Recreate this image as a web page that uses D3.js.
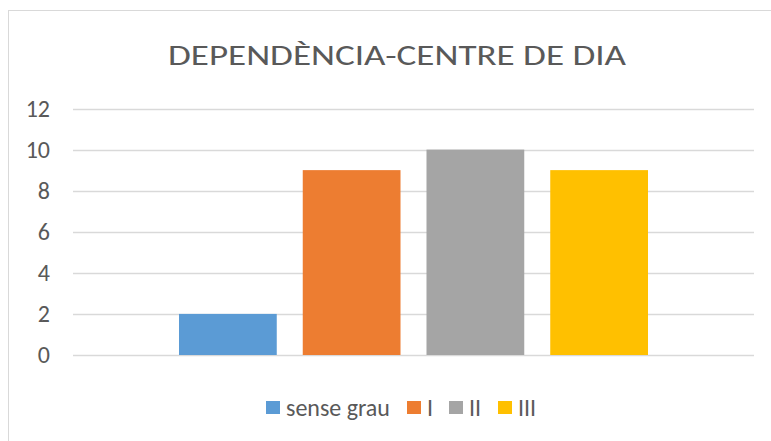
<!DOCTYPE html>
<html lang="ca">
<head>
    <meta charset="UTF-8">
    <title>Dependència - Centre de dia</title>
    <script src="https://d3js.org/d3.v7.min.js"></script>
    <style>
        body { margin: 0; background: #fff; }
        svg { display: block; font-family: Carlito, Calibri, "Open Sans", sans-serif; }
    </style>
</head>
<body>
    <svg width="771" height="441"></svg>
    <script>
        const series = ["sense grau", "I", "II", "III"];
        const values = [2, 9, 10, 9];
        const colors = ["#5B9BD5", "#ED7D31", "#A5A5A5", "#FFC000"];
        const yTicks = [0, 2, 4, 6, 8, 10, 12];
        const title = "DEPENDÈNCIA-CENTRE DE DIA";

        const svg = d3.select("svg");
        const textColor = "#595959";

        // chart frame
        svg.append("rect")
            .attr("x", 8.5).attr("y", 10.5)
            .attr("width", 780).attr("height", 440)
            .attr("fill", "none")
            .attr("stroke", "#D9D9D9");

        const plotLeft = 73, plotRight = 754, plotTop = 108.5, plotBottom = 355;

        const y = d3.scaleLinear().domain([0, 12]).range([plotBottom, plotTop]);

        const x0 = d3.scaleBand().domain(["cat"]).range([plotLeft, plotRight]).paddingOuter(0.226);
        const x1 = d3.scaleBand().domain(series).range([0, x0.bandwidth()]).paddingInner(0.21);

        // gridlines
        svg.append("g")
            .selectAll("line")
            .data(yTicks)
            .join("line")
            .attr("x1", plotLeft).attr("x2", plotRight)
            .attr("y1", d => Math.round(y(d)) + 0.5)
            .attr("y2", d => Math.round(y(d)) + 0.5)
            .attr("stroke", "#D9D9D9")
            .attr("stroke-width", 1.3);

        // y labels
        svg.append("g")
            .selectAll("text")
            .data(yTicks)
            .join("text")
            .attr("x", 50)
            .attr("y", d => y(d))
            .attr("dy", "0.34em")
            .attr("text-anchor", "end")
            .attr("fill", textColor)
            .attr("font-size", 24)
            .text(d => d);

        // bars
        svg.append("g")
            .selectAll("rect")
            .data(series)
            .join("rect")
            .attr("x", d => x0("cat") + x1(d))
            .attr("width", x1.bandwidth())
            .attr("y", (d, i) => y(values[i]))
            .attr("height", (d, i) => y(0) - y(values[i]))
            .attr("fill", (d, i) => colors[i]);

        // title
        svg.append("text")
            .attr("x", 397)
            .attr("y", 64.5)
            .attr("text-anchor", "middle")
            .attr("fill", textColor)
            .attr("font-size", 29.5)
            .attr("textLength", 458)
            .attr("lengthAdjust", "spacingAndGlyphs")
            .text(title);

        // legend
        const legendX = [266, 407, 449, 498];
        const lg = svg.append("g")
            .selectAll("g")
            .data(series)
            .join("g")
            .attr("transform", (d, i) => `translate(${legendX[i]},401)`);
        lg.append("rect")
            .attr("width", 14).attr("height", 13)
            .attr("fill", (d, i) => colors[i]);
        lg.append("text")
            .attr("x", 20)
            .attr("y", 7)
            .attr("dy", "0.34em")
            .attr("fill", textColor)
            .attr("font-size", 24)
            .text(d => d);
    </script>
</body>
</html>
